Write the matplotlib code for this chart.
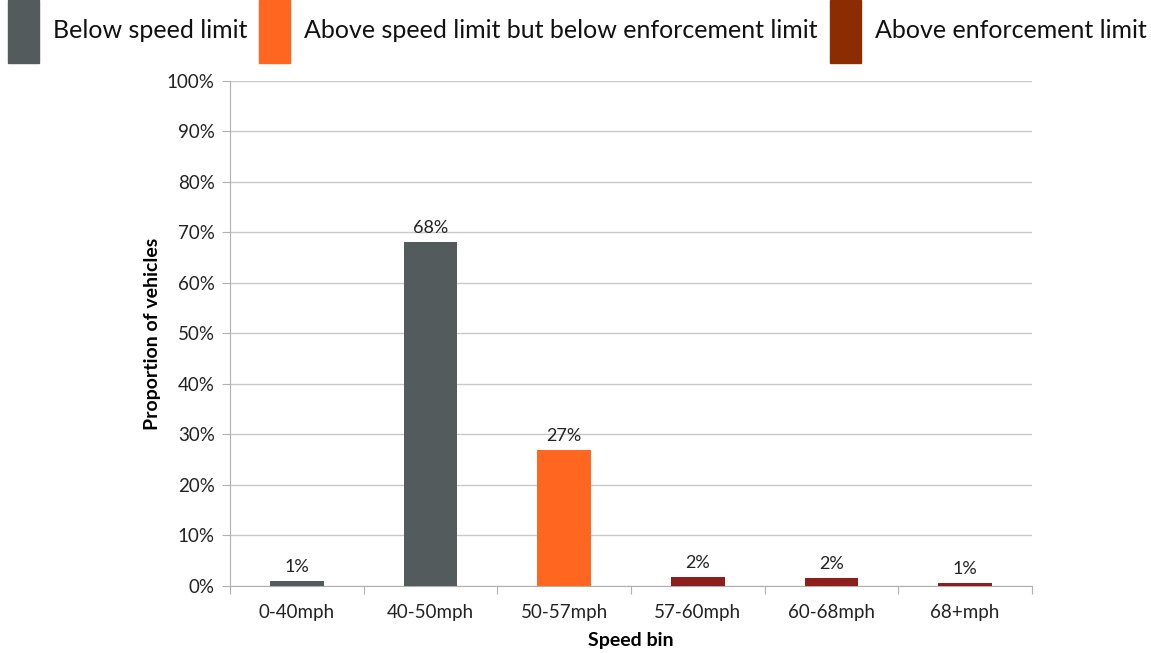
import matplotlib
matplotlib.use("Agg")
import matplotlib.pyplot as plt
from matplotlib.patches import Rectangle
import numpy as np

plt.rcParams['font.family'] = ['Lato', 'DejaVu Sans']

# Data
speed_bins = ["0-40mph", "40-50mph", "50-57mph", "57-60mph", "60-68mph", "68+mph"]
proportions = [0.9, 68.2, 27.0, 1.8, 1.6, 0.6]
bin_groups = ["below", "below", "between", "above", "above", "above"]

group_labels = ["Below speed limit",
                "Above speed limit but below enforcement limit",
                "Above enforcement limit"]
group_keys = ["below", "between", "above"]
legend_colors = {"below": "#535b5d", "between": "#ff6720", "above": "#8b2c02"}
bar_colors = {"below": "#535b5d", "between": "#ff6720", "above": "#8c1e1e"}

fig = plt.figure(figsize=(11.51, 6.53), dpi=100)
ax = fig.add_axes([0.1998, 0.1026, 0.6968, 0.7734])

x = np.arange(len(speed_bins))
bars = ax.bar(x, proportions, width=0.4,
              color=[bar_colors[g] for g in bin_groups], zorder=3)

for xi, v in zip(x, proportions):
    ax.text(xi, v + 1.2, f"{v:.0f}%", ha="center", va="bottom",
            fontsize=13, color="#222222")

ax.set_xlim(-0.5, len(speed_bins) - 0.5)
ax.set_ylim(0, 100)
ax.set_yticks(np.arange(0, 101, 10))
ax.set_yticklabels([f"{t}%" for t in range(0, 101, 10)], fontsize=13.5, color="#222222")
ax.yaxis.grid(True, color="#c8c8c8", linewidth=1, zorder=0)

# category boundary ticks with labels centred between them
ax.set_xticks(np.arange(-0.5, len(speed_bins), 1.0))
ax.set_xticklabels([])
ax.set_xticks(x, minor=True)
ax.set_xticklabels(speed_bins, minor=True, fontsize=13.5, color="#222222")
ax.tick_params(axis="x", which="major", length=6, color="#b0b0b0")
ax.tick_params(axis="x", which="minor", length=0, pad=13)
ax.tick_params(axis="y", length=6, color="#b0b0b0", pad=5)

for s in ["top", "right"]:
    ax.spines[s].set_visible(False)
for s in ["left", "bottom"]:
    ax.spines[s].set_color("#b0b0b0")

ax.set_xlabel("Speed bin", fontsize=14, fontweight="bold", labelpad=8)
ax.set_ylabel("Proportion of vehicles", fontsize=14, fontweight="bold", labelpad=4)

# Legend across the top
W, H = 1151.0, 653.0
patch_x = [8, 259, 830]
text_x = [53, 304, 875]
for key, label, px, tx in zip(group_keys, group_labels, patch_x, text_x):
    fig.patches.append(Rectangle((px / W, 1 - 63 / H), 31 / W, 63 / H,
                                 transform=fig.transFigure,
                                 color=legend_colors[key]))
    fig.text(tx / W, 1 - 31 / H, label, fontsize=18, va="center", ha="left",
             color="#111111")

fig.savefig("out.png", dpi=100)
